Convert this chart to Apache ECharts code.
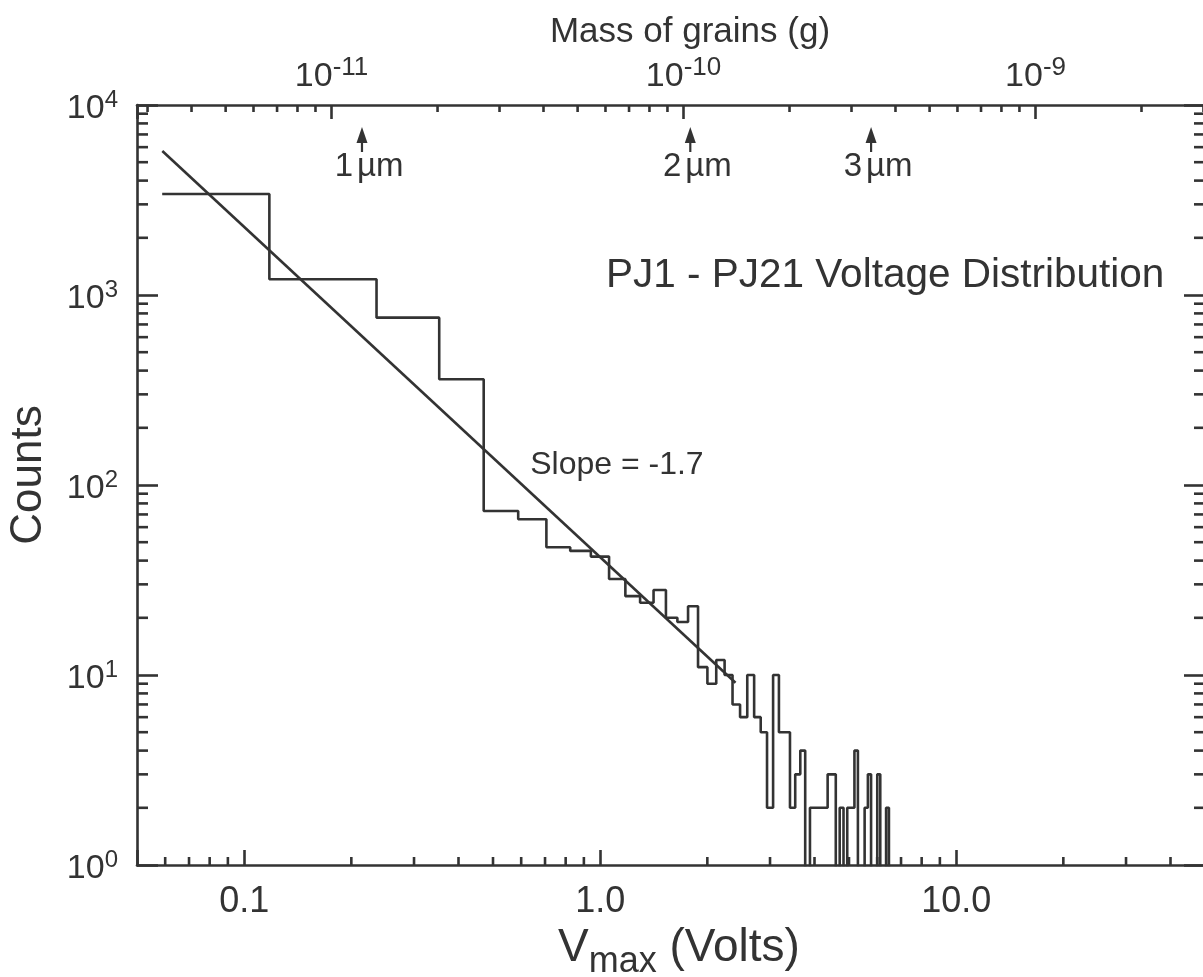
<!DOCTYPE html>
<html>
<head>
<meta charset="utf-8">
<script src="https://cdn.jsdelivr.net/npm/echarts@6/dist/echarts.min.js"></script>
<style>
  html, body { margin: 0; padding: 0; background: #fff; }
  #main { width: 1203px; height: 977px; }
</style>
</head>
<body>
<div id="main"></div>
<script>
// histogram of peak voltages, bins of constant width (first bin is a half bin)
const binWidth = 0.1177;
const counts = [3400, 1210, 760, 360, 73, 66, 47, 45, 42, 32, 26, 24, 28, 20, 19, 23,
  11, 9, 12, 10, 7, 6, 10, 6, 5, 2, 10, 5, 5, 2, 3, 4, 0, 2, 2, 2, 2, 3, 3, 0,
  2, 0, 2, 2, 4, 0, 0, 2, 3, 0, 0, 3, 0, 0, 2];

// power law fit, end points
const fitVolts = [0.0589, 2.40];
const fitCounts = [5730, 9.1];
const slopeText = 'Slope = -1.7';
const slopeAt = [0.636, 127];

// grain sizes marked on the mass axis
const grainLabels = ['1', '2', '3'];
const grainMass = [1.22e-11, 1.045e-10, 3.41e-10];

const voltRange = [0.05, 50];
const countRange = [1, 1e4];
const massRange = [2.8e-12, 3.03e-9];

const INK = '#333';
const FONT = '"Liberation Sans", Arial, Helvetica, sans-serif';
const LW = 2.6;

const chart = echarts.init(document.getElementById('main'));

// step outline: each count starts at its left bin edge
const histData = counts.map((c, j) => [j === 0 ? binWidth / 2 : j * binWidth, c > 0 ? c : 0.3]);
histData.push([counts.length * binWidth, 0.3]);

function isDecade(v) {
  const e = Math.log10(v);
  return Math.abs(e - Math.round(e)) < 1e-6;
}

function decadeMinors(lo, hi) {
  const out = [];
  for (let e = Math.floor(Math.log10(lo)); e <= Math.ceil(Math.log10(hi)); e++) {
    for (let k = 2; k <= 9; k++) {
      const v = k * Math.pow(10, e);
      if (v > lo * 1.001 && v < hi * 0.999) out.push(v);
    }
  }
  return out;
}

function minorTicks(where, values, len) {
  const isY = where === 'left' || where === 'right';
  return {
    type: 'custom',
    xAxisIndex: where === 'top' ? 1 : 0,
    yAxisIndex: 0,
    silent: true,
    clip: false,
    data: values.map(v => isY ? [1, v] : [v, 1]),
    renderItem: function (params, api) {
      const cs = params.coordSys;
      const p = api.coord([api.value(0), api.value(1)]);
      let s;
      if (where === 'bottom') s = { x1: p[0], y1: cs.y + cs.height, x2: p[0], y2: cs.y + cs.height - len };
      else if (where === 'top') s = { x1: p[0], y1: cs.y, x2: p[0], y2: cs.y + len };
      else if (where === 'left') s = { x1: cs.x, y1: p[1], x2: cs.x + len, y2: p[1] };
      else s = { x1: cs.x + cs.width, y1: p[1], x2: cs.x + cs.width - len, y2: p[1] };
      return { type: 'line', shape: s, style: { stroke: INK, lineWidth: LW } };
    }
  };
}

const option = {
  animation: false,
  backgroundColor: '#fff',
  textStyle: { fontFamily: FONT, color: INK },
  title: {
    text: 'PJ1 - PJ21 Voltage Distribution',
    left: 606,
    top: 255,
    padding: 0,
    textStyle: { fontSize: 40.5, fontWeight: 'normal', color: INK, fontFamily: FONT }
  },
  grid: { left: 137, right: -2, top: 105, bottom: 112, outerBoundsMode: 'none' },
  xAxis: [
    {
      type: 'log',
      position: 'bottom',
      min: voltRange[0],
      max: voltRange[1],
      name: 'V{sub|max} (Volts)',
      nameLocation: 'middle',
      nameGap: 47,
      nameTextStyle: {
        fontSize: 46, color: INK, fontFamily: FONT, padding: [0, 0, 0, 16],
        rich: { sub: { fontSize: 36, color: INK, fontFamily: FONT, padding: [28, 0, 0, 0] } }
      },
      axisLine: { lineStyle: { color: INK, width: LW } },
      axisTick: { inside: true, length: 15, lineStyle: { color: INK, width: LW } },
      axisLabel: {
        fontSize: 36, color: INK, fontFamily: FONT, margin: 19,
        formatter: v => isDecade(v) ? (v < 1 ? String(v) : v.toFixed(1)) : ''
      },
      splitLine: { show: false }
    },
    {
      type: 'log',
      position: 'top',
      min: massRange[0],
      max: massRange[1],
      name: 'Mass of grains (g)',
      nameLocation: 'middle',
      nameGap: 53,
      nameTextStyle: { fontSize: 35, color: INK, fontFamily: FONT, padding: [0, 0, 0, 38] },
      axisLine: { lineStyle: { color: INK, width: LW } },
      axisTick: { inside: true, length: 14, lineStyle: { color: INK, width: LW } },
      axisLabel: {
        fontSize: 34, color: INK, fontFamily: FONT, margin: 6,
        formatter: v => isDecade(v) ? '10{sup|' + Math.round(Math.log10(v)) + '}' : '',
        rich: { sup: { fontSize: 26, color: INK, fontFamily: FONT, padding: [0, 0, 18, 0] } }
      },
      splitLine: { show: false }
    }
  ],
  yAxis: [
    {
      type: 'log',
      position: 'left',
      min: countRange[0],
      max: countRange[1],
      name: 'Counts',
      nameLocation: 'middle',
      nameRotate: 90,
      nameGap: 86,
      nameTextStyle: { fontSize: 44, color: INK, fontFamily: FONT, padding: [0, 0, 0, 20] },
      axisLine: { lineStyle: { color: INK, width: LW } },
      axisTick: { inside: true, length: 21, lineStyle: { color: INK, width: LW } },
      axisLabel: {
        fontSize: 34, color: INK, fontFamily: FONT, margin: 19, padding: [8, 0, 0, 0],
        formatter: v => isDecade(v) ? '10{sup|' + Math.round(Math.log10(v)) + '}' : '',
        rich: { sup: { fontSize: 24, color: INK, fontFamily: FONT, padding: [0, 0, 18, 0] } }
      },
      splitLine: { show: false }
    },
    {
      type: 'log',
      position: 'right',
      min: countRange[0],
      max: countRange[1],
      axisLine: { lineStyle: { color: INK, width: LW } },
      axisTick: { inside: true, length: 21, lineStyle: { color: INK, width: LW } },
      axisLabel: { show: false },
      splitLine: { show: false }
    }
  ],
  series: [
    {
      name: 'histogram',
      type: 'line',
      step: 'end',
      data: histData,
      symbol: 'none',
      lineStyle: { color: INK, width: LW },
      clip: true
    },
    {
      name: 'fit',
      type: 'line',
      data: fitVolts.map((v, i) => [v, fitCounts[i]]),
      symbol: 'none',
      lineStyle: { color: INK, width: LW }
    },
    {
      name: 'slope',
      type: 'scatter',
      data: [slopeAt],
      symbolSize: 0,
      silent: true,
      itemStyle: { opacity: 1 },
      label: {
        show: true, position: 'right', distance: 0, formatter: slopeText,
        fontSize: 32, color: INK, fontFamily: FONT
      }
    },
    minorTicks('bottom', decadeMinors(voltRange[0], voltRange[1]), 8),
    minorTicks('top', decadeMinors(massRange[0], massRange[1]), 7),
    minorTicks('left', decadeMinors(countRange[0], countRange[1]), 11),
    minorTicks('right', decadeMinors(countRange[0], countRange[1]), 11),
    {
      name: 'grain sizes',
      type: 'custom',
      xAxisIndex: 1,
      yAxisIndex: 0,
      silent: true,
      clip: false,
      data: grainMass.map(m => [m, countRange[1]]),
      renderItem: function (params, api) {
        const top = params.coordSys.y;
        const x = api.coord([api.value(0), api.value(1)])[0];
        const txt = { fill: INK, fontSize: 33, fontFamily: FONT, verticalAlign: 'middle' };
        return {
          type: 'group',
          children: [
            { type: 'line', shape: { x1: x, y1: top + 34, x2: x, y2: top + 47 }, style: { stroke: INK, lineWidth: 2.2 } },
            { type: 'polygon', shape: { points: [[x, top + 22], [x - 5.5, top + 38], [x + 5.5, top + 38]] }, style: { fill: INK } },
            { type: 'text', x: x - 9, y: top + 62, style: Object.assign({ text: grainLabels[params.dataIndex], align: 'right' }, txt) },
            { type: 'text', x: x - 5, y: top + 62, style: Object.assign({ text: 'µm', align: 'left' }, txt) }
          ]
        };
      }
    }
  ]
};

chart.setOption(option);
</script>
</body>
</html>
